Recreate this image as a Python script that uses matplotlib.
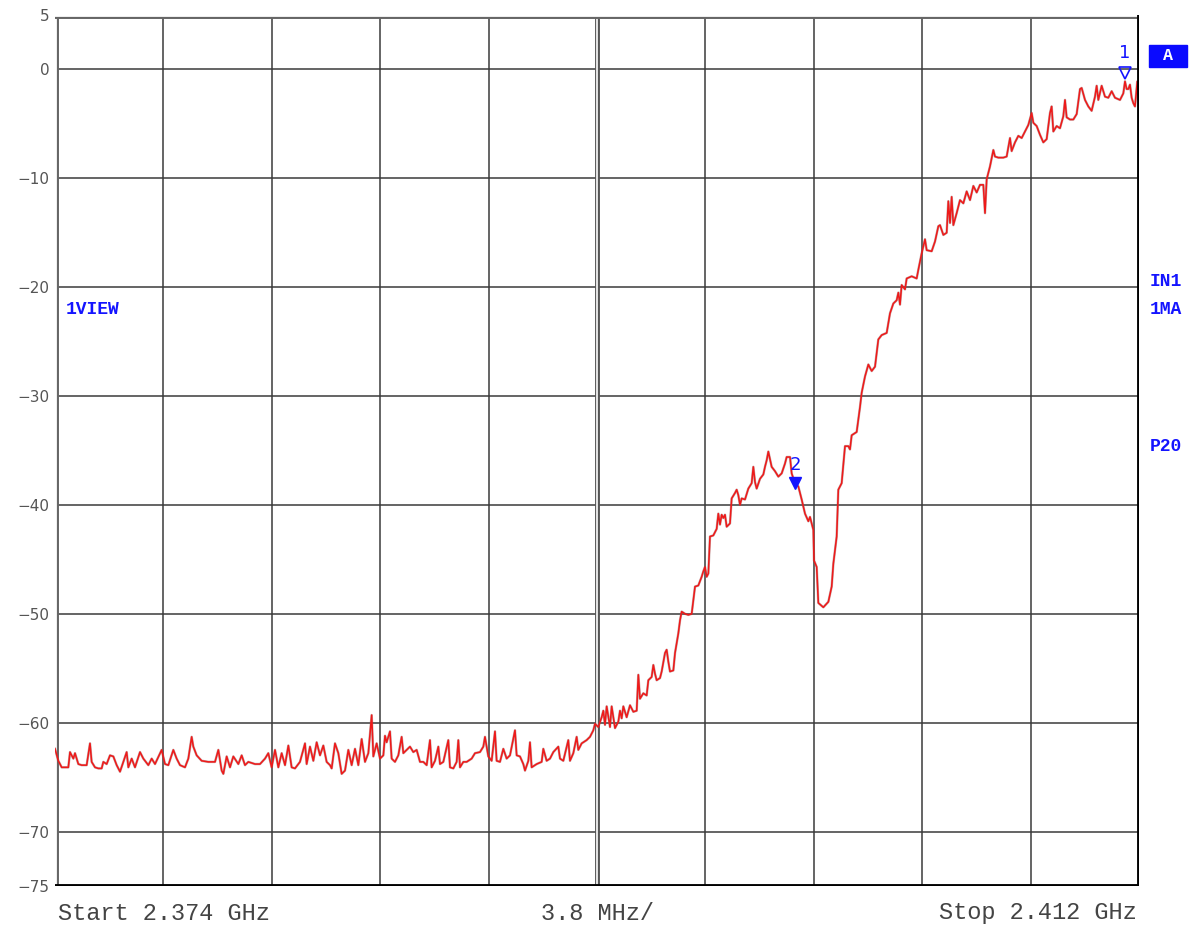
import matplotlib
matplotlib.use("Agg")
import matplotlib.pyplot as plt
import numpy as np

# sweep settings
start_mhz = 2374.0
stop_mhz = 2412.0
span_per_div = 3.8

# trace: frequency offset from start (MHz) and level (dB)
offset_mhz = [
    0.0, 0.117, 0.234, 0.467, 0.526, 0.643, 0.701, 0.818, 0.935, 1.110,
    1.227, 1.285, 1.402, 1.519, 1.636, 1.694, 1.811, 1.928, 2.045, 2.162,
    2.279, 2.395, 2.512, 2.571, 2.688, 2.804, 2.980, 3.097, 3.272, 3.389,
    3.506, 3.739, 3.856, 3.973, 4.148, 4.265, 4.382, 4.557, 4.674, 4.791,
    4.849, 4.966, 5.141, 5.375, 5.609, 5.726, 5.843, 5.901, 6.018, 6.135,
    6.251, 6.427, 6.544, 6.660, 6.777, 7.011, 7.186, 7.362, 7.478, 7.595,
    7.712, 7.829, 7.946, 8.063, 8.180, 8.296, 8.413, 8.588, 8.764, 8.822,
    8.939, 9.056, 9.173, 9.290, 9.406, 9.523, 9.640, 9.699, 9.815, 9.932,
    10.049, 10.166, 10.283, 10.400, 10.517, 10.633, 10.750, 10.867, 10.984, 11.101,
    11.159, 11.276, 11.393, 11.510,
    11.568, 11.626, 11.743, 11.802, 11.918, 12.035, 12.152, 12.211, 12.327, 12.444,
    12.561, 12.678, 12.795, 12.912, 13.029, 13.145, 13.204, 13.321, 13.438, 13.496,
    13.613, 13.788, 13.847, 13.964, 14.080, 14.139, 14.197, 14.314, 14.431, 14.606,
    14.723, 14.898, 15.015, 15.073, 15.190, 15.307, 15.424, 15.482, 15.599, 15.716,
    15.833, 15.950, 16.125, 16.184, 16.300, 16.417, 16.476, 16.593, 16.651, 16.709,
    16.885, 17.060, 17.118, 17.235, 17.352, 17.469, 17.644, 17.703, 17.819, 17.994,
    18.053, 18.170, 18.287, 18.345, 18.462, 18.637, 18.754, 18.871, 18.929, 19.046,
    19.163, 19.222, 19.280, 19.339, 19.456, 19.514, 19.631, 19.748, 19.806, 19.865,
    19.923, 20.040, 20.157, 20.274, 20.391, 20.449, 20.507, 20.624, 20.741, 20.800,
    20.916, 20.975, 21.033, 21.092, 21.209, 21.267, 21.384, 21.442, 21.501, 21.559,
    21.676, 21.735, 21.793, 21.851, 21.910, 21.968, 22.085, 22.202, 22.319, 22.436,
    22.552, 22.669, 22.728, 22.786, 22.845, 22.903, 22.961, 23.078, 23.195, 23.253,
    23.312, 23.370, 23.429, 23.487, 23.546, 23.662, 23.721, 23.838, 23.896, 23.954,
    24.013, 24.071, 24.188, 24.305, 24.422, 24.480, 24.539, 24.597, 24.714, 24.831,
    24.889, 24.948, 25.006, 25.123, 25.240, 25.357, 25.474, 25.590, 25.649, 25.766,
    25.824, 25.941, 26.058, 26.175, 26.292, 26.409,
    26.467, 26.584, 26.607, 26.701, 26.759, 26.934, 27.110, 27.227, 27.285, 27.402,
    27.460, 27.577, 27.694, 27.811, 27.869, 27.928, 28.103, 28.220, 28.278, 28.395,
    28.512, 28.629, 28.746, 28.862, 28.979, 29.155, 29.271, 29.388, 29.505, 29.564,
    29.622, 29.680, 29.797, 29.856, 30.031, 30.206, 30.265, 30.381, 30.498, 30.557,
    30.732, 30.849, 30.966, 31.024, 31.141, 31.258, 31.316, 31.375, 31.433, 31.492,
    31.608, 31.725, 31.842, 31.959, 32.076, 32.193, 32.310, 32.426, 32.543, 32.602,
    32.660, 32.777, 32.894, 32.952, 33.069, 33.244, 33.361,
    33.478, 33.536, 33.653, 33.770, 33.887, 34.003, 34.120, 34.237, 34.296, 34.413,
    34.529, 34.646, 34.763, 34.880, 34.938, 34.997, 35.114, 35.230, 35.347, 35.406,
    35.464, 35.581, 35.698, 35.815, 35.932, 35.990, 36.107, 36.224, 36.340, 36.457,
    36.516, 36.574, 36.691, 36.808, 36.925, 37.042, 37.158, 37.334, 37.450, 37.509,
    37.567, 37.626, 37.684, 37.743, 37.801, 37.860, 37.940, 38.0,
]
level_db = [
    -62.4, -63.5, -64.1, -64.1, -62.7, -63.3, -62.8, -63.8, -63.9, -63.9,
    -61.9, -63.6, -64.1, -64.2, -64.2, -63.6, -63.8, -63.0, -63.1, -63.9,
    -64.5, -63.6, -62.7, -64.1, -63.3, -64.1, -62.7, -63.3, -63.9, -63.3,
    -63.8, -62.5, -63.8, -63.9, -62.5, -63.3, -63.9, -64.1, -63.3, -61.3,
    -62.2, -63.0, -63.5, -63.6, -63.6, -62.5, -64.4, -64.7, -63.1, -64.1,
    -63.1, -63.8, -63.0, -63.9, -63.6, -63.8, -63.8, -63.3, -62.8, -64.1,
    -62.5, -64.1, -62.8, -63.9, -62.1, -64.1, -64.2, -63.6, -61.9, -63.8,
    -62.2, -63.5, -61.8, -63.0, -62.1, -63.6, -63.9, -64.2, -61.9, -62.8,
    -64.7, -64.4, -62.5, -63.9, -62.4, -63.9, -61.5, -63.6, -62.8, -59.3,
    -63.1, -61.9, -63.3, -63.0,
    -61.2, -61.8, -60.8, -63.3, -63.6, -63.0, -61.3, -62.8, -62.5, -62.2,
    -62.7, -62.5, -63.6, -63.6, -63.9, -61.6, -64.1, -63.5, -62.2, -63.8,
    -63.6, -61.6, -64.1, -64.2, -63.6, -61.6, -64.1, -63.6, -63.6, -63.3,
    -62.8, -62.7, -62.2, -61.3, -63.1, -63.5, -60.8, -63.5, -63.6, -62.4,
    -63.3, -63.0, -60.7, -63.0, -63.1, -63.8, -64.4, -63.5, -61.8, -64.1,
    -63.8, -63.6, -62.4, -63.5, -63.3, -62.7, -62.2, -63.3, -63.5, -61.6,
    -63.5, -62.8, -61.3, -62.5, -61.9, -61.6, -61.3, -60.7, -60.1, -60.4,
    -59.5, -58.9, -60.2, -58.5, -60.4, -58.5, -60.5, -59.9, -58.9, -59.6,
    -58.5, -59.5, -58.4, -59.0, -58.9, -55.6, -57.8, -57.3, -57.5, -56.1,
    -55.8, -54.7, -55.5, -56.1, -55.9, -55.3, -53.6, -53.3, -54.4, -55.3,
    -55.2, -53.6, -52.7, -51.8, -50.6, -49.8, -50.0, -50.1, -50.0, -47.5,
    -47.4, -46.6, -46.1, -45.7, -46.6, -46.3, -42.9, -42.8, -42.2, -40.8,
    -41.8, -40.9, -41.2, -40.9, -42.0, -41.7, -39.4, -38.9, -38.6, -39.1,
    -40.0, -39.4, -39.5, -38.5, -38.0, -36.5, -37.9, -38.5, -37.6, -37.2,
    -36.5, -35.9, -35.1, -36.5, -36.9, -37.4, -37.1, -36.2, -35.6, -35.6,
    -37.1, -38.0, -38.3, -39.5, -40.8, -41.5,
    -41.1, -42.3, -45.1, -45.7, -49.0, -49.4, -48.9, -47.5, -45.4, -42.9,
    -38.6, -38.0, -34.6, -34.6, -34.9, -33.6, -33.3, -31.0, -29.7, -28.2,
    -27.1, -27.7, -27.3, -24.8, -24.4, -24.2, -22.4, -21.5, -21.2, -20.5,
    -21.6, -19.8, -20.2, -19.2, -19.0, -19.2, -18.4, -16.9, -15.6, -16.6,
    -16.7, -15.8, -14.4, -14.3, -15.2, -15.0, -12.1, -14.1, -11.7, -14.3,
    -13.2, -12.0, -12.3, -11.2, -12.0, -10.7, -11.3, -10.6, -10.6, -13.2,
    -10.1, -8.9, -7.4, -8.0, -8.1, -8.1, -8.0,
    -6.3, -7.5, -6.7, -6.1, -6.3, -5.7, -5.1, -4.0, -4.9, -5.2,
    -6.0, -6.7, -6.4, -4.0, -3.4, -5.7, -5.2, -5.4, -4.3, -2.8,
    -4.4, -4.6, -4.6, -4.1, -1.8, -1.7, -2.8, -3.4, -3.8, -2.5,
    -1.5, -2.8, -1.5, -2.5, -2.6, -2.0, -2.6, -2.8, -2.2, -1.1,
    -1.8, -1.8, -1.4, -2.6, -3.1, -3.4, -1.1, -3.0,
]

# markers (offset MHz, level dB)
marker1 = (37.51, -0.3)
marker2 = (25.94, -38.0)

y_ticks = [5, 0, -10, -20, -30, -40, -50, -60, -70, -75]

BLUE = "#1414ff"
GRID = "#3a3a3a"


def draw_frame(ax):
    f0, f1 = start_mhz, stop_mhz
    # grid
    for i in range(1, 10):
        x = f0 + i * span_per_div
        ax.axvline(x, color=GRID, lw=1.1, zorder=1)
    for v in range(0, -71, -10):
        ax.axhline(v, color=GRID, lw=1.1, zorder=1)
    # double centre line
    xc = f0 + 5 * span_per_div
    ax.axvline(xc, color="#555555", lw=3.5, zorder=1)
    ax.axvline(xc, color="white", lw=1.2, zorder=1)
    # left and top double borders
    ax.axvline(f0, color="#666666", lw=5, zorder=2)
    ax.axvline(f0, color="white", lw=2, zorder=2)
    ax.axhline(5, color="#666666", lw=5, zorder=2)
    ax.axhline(5, color="white", lw=2, zorder=2)
    # right and bottom heavy borders
    ax.axvline(f1, color="black", lw=3.5, zorder=5)
    ax.axhline(-75, color="black", lw=3.5, zorder=5)


def main():
    fig = plt.figure(figsize=(11.89, 9.25), dpi=100)
    ax = fig.add_axes([55 / 1189, 39 / 925, 1084 / 1189, 871 / 925])
    ax.set_xlim(start_mhz, stop_mhz)
    ax.set_ylim(-75, 5)
    for s in ax.spines.values():
        s.set_visible(False)
    ax.set_xticks([])
    ax.set_yticks(y_ticks)
    ax.set_yticklabels([str(t).replace("-", "\u2212") for t in y_ticks],
                       fontsize=11, color="#555555")
    ax.tick_params(axis="y", length=0, pad=4)

    draw_frame(ax)

    freq = start_mhz + np.array(offset_mhz)
    lev = np.array(level_db)
    ax.plot(freq, lev, color="#8a5a5a", lw=1.8, zorder=3, alpha=0.45)
    ax.plot(freq, lev, color="#ee1a1a", lw=1.15, zorder=4)

    # markers
    m1x = start_mhz + marker1[0]
    ax.plot(m1x, marker1[1], marker="v", ms=9, mfc="none", mec=BLUE, mew=1.2, zorder=6)
    ax.text(m1x, marker1[1] + 1.0, "1", color=BLUE, fontsize=13, ha="center", va="bottom",
            family="DejaVu Sans", zorder=6)
    m2x = start_mhz + marker2[0]
    ax.plot(m2x, marker2[1], marker="v", ms=9, color=BLUE, zorder=6)
    ax.text(m2x, marker2[1] + 0.8, "2", color=BLUE, fontsize=13, ha="center", va="bottom",
            family="DejaVu Sans", zorder=6)

    # screen annotations
    mono = "Liberation Mono"
    fig.text(66 / 1189, 1 - 310 / 925, "1VIEW", color=BLUE, fontsize=13,
             fontweight="bold", family=mono, va="center", ha="left")
    fig.text(1150 / 1189, 1 - 281 / 925, "IN1", color=BLUE, fontsize=13,
             fontweight="bold", family=mono, va="center", ha="left")
    fig.text(1150 / 1189, 1 - 310 / 925, "1MA", color=BLUE, fontsize=13,
             fontweight="bold", family=mono, va="center", ha="left")
    fig.text(1150 / 1189, 1 - 447 / 925, "P20", color=BLUE, fontsize=13,
             fontweight="bold", family=mono, va="center", ha="left")
    fig.patches.append(plt.Rectangle((1149 / 1189, 1 - 67 / 925), 38 / 1189, 22 / 925,
                                     transform=fig.transFigure, color="#0a0aff", zorder=1))
    fig.text(1168 / 1189, 1 - 56 / 925, "A", color="white", fontsize=12,
             fontweight="bold", family=mono, va="center", ha="center")

    # bottom labels
    fig.text(58 / 1189, 1 - 913 / 925, "Start 2.374 GHz", fontsize=17, color="#444444",
             family=mono, va="center", ha="left")
    fig.text(598 / 1189, 1 - 913 / 925, "3.8 MHz/", fontsize=17, color="#444444",
             family=mono, va="center", ha="center")
    fig.text(1137 / 1189, 1 - 913 / 925, "Stop 2.412 GHz", fontsize=17, color="#444444",
             family=mono, va="center", ha="right")

    fig.savefig("out.png", dpi=100)


if __name__ == "__main__":
    main()
